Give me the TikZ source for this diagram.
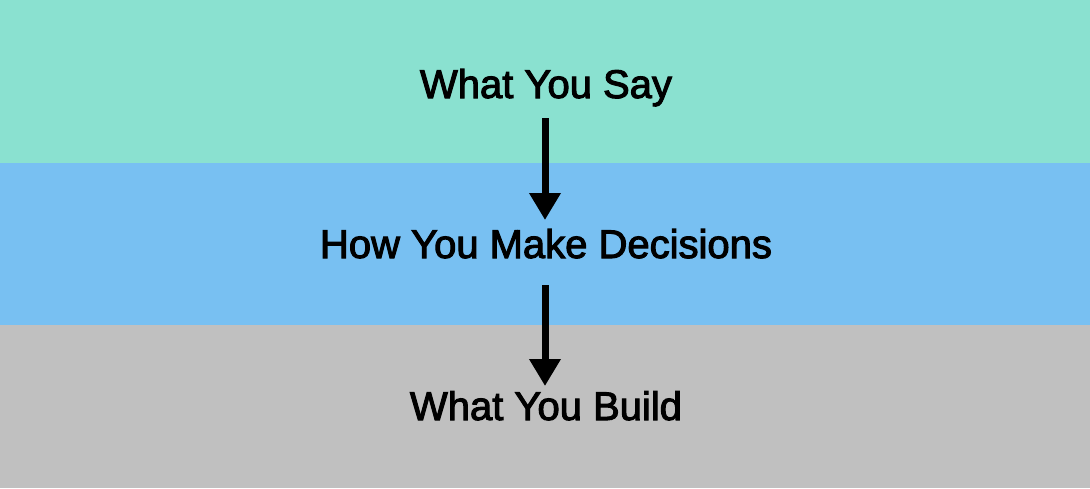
\documentclass[tikz,border=0pt]{standalone}
\usepackage{fontspec}
\setmainfont{Liberation Sans}
\newfontfamily\lblfont{Liberation Sans}[FakeBold=2.6]
\usetikzlibrary{arrows.meta}
\definecolor{bandA}{HTML}{8AE1D0}
\definecolor{bandB}{HTML}{78C0F2}
\definecolor{bandC}{HTML}{C0C0C0}
\tikzset{
  lbl/.style={anchor=base, inner sep=0pt, font=\lblfont\fontsize{40}{43}\selectfont, text=black},
  flow/.style={line width=7pt, -{Triangle[width=30pt,length=27pt]}},
}
\begin{document}
\begin{tikzpicture}[x=1pt,y=-1pt]
\useasboundingbox (0,0) rectangle (1090,488);
\fill[bandA] (0,0) rectangle (1090,163);
\fill[bandB] (0,163) rectangle (1090,325);
\fill[bandC] (0,325) rectangle (1090,488);
\node[lbl] (say) at (546,98) {What You Say};
\node[lbl] (decide) at (546,258) {How You Make Decisions};
\node[lbl] (build) at (546,420) {What You Build};
\coordinate (a1s) at (545,118);
\coordinate (a1e) at (545,220);
\coordinate (a2s) at (545,285);
\coordinate (a2e) at (545,386);
\draw[flow] (a1s) -- (a1e);
\draw[flow] (a2s) -- (a2e);
\end{tikzpicture}
\end{document}
